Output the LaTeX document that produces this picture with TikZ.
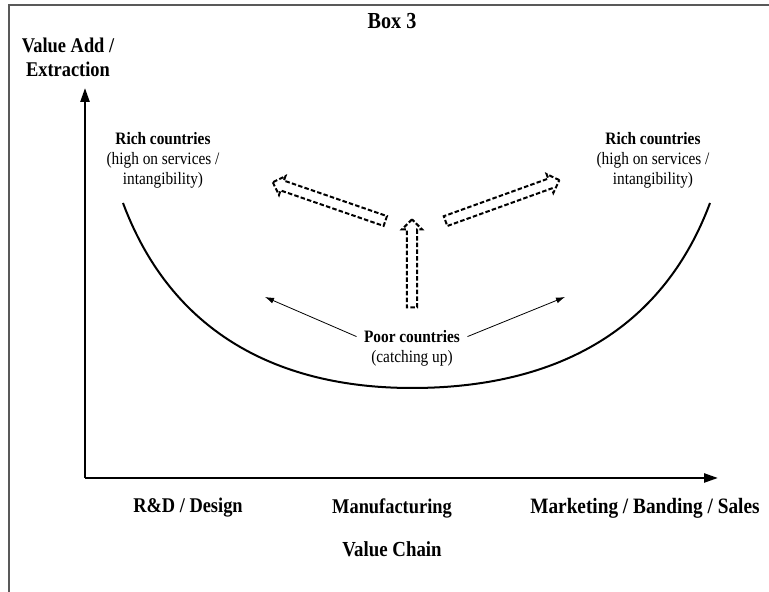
\documentclass[tikz,border=0pt]{standalone}
\usepackage{fontspec}
\setmainfont{Liberation Serif}[FakeStretch=0.88]
\usetikzlibrary{arrows.meta,shapes.arrows}

\tikzset{
	txt/.style={font=\fontsize{17.5}{20}\selectfont, align=center},
	axlbl/.style={font=\bfseries\fontsize{21}{24}\selectfont, align=center},
	hollowarrow/.style={single arrow, draw, dash pattern=on 4.5bp off 2.2bp, line width=2bp,
		inner sep=4.2bp, single arrow head extend=4.8bp, single arrow tip angle=90, minimum height=#1},
	thinarrow/.style={-{Latex[length=9bp,width=6bp]}, line width=0.8bp},
	axis/.style={-{Triangle[length=14bp,width=9bp]}, line width=2.4bp},
}

\begin{document}
\begin{tikzpicture}[x=1bp, y=1bp]
			%%%%% START %%%%%
			\useasboundingbox (0, 0) rectangle (769, 592);
			
			% frame
			\draw[line width=1.3bp, color=black!65] (9, 0) -- (9, 587) -- (769, 587);
			
			\node[axlbl, font=\bfseries\fontsize{23}{26}\selectfont] (title) at (392, 571) {Box 3};
			\node[axlbl] (ylabel) at (68, 535) {Value Add /\\Extraction};
			
			% axes
			\coordinate (origin) at (85, 114);
			\coordinate (ytip) at (85, 504);
			\coordinate (xtip) at (718, 114);
			\draw[axis] (origin) -- (ytip);
			\draw[axis] (origin) -- (xtip);
			
			\node[axlbl] (rd) at (188, 84) {R\&D / Design};
			\node[axlbl] (manu) at (392, 84) {Manufacturing};
			\node[axlbl, font=\bfseries\fontsize{22}{25}\selectfont] (mkt) at (645, 84) {Marketing / Banding / Sales};
			\node[axlbl, font=\bfseries\fontsize{21.5}{25}\selectfont] (chain) at (392, 43) {Value Chain};
			
			% smile curve
			\coordinate (cl) at (123, 389);
			\coordinate (cb) at (412, 204);
			\coordinate (cr) at (710, 389);
			\draw[line width=2bp] (cl) .. controls (175, 250) and (290, 204) .. (cb)
				.. controls (540, 204) and (658, 250) .. (cr);
			
			\node[txt] (richL) at (163, 432) {\textbf{Rich countries}\\(high on services /\\intangibility)};
			\node[txt] (richR) at (653, 432) {\textbf{Rich countries}\\(high on services /\\intangibility)};
			\node[txt] (poor) at (412, 244) {\textbf{Poor countries}\\(catching up)};
			
			% thin arrows
			\coordinate (tl) at (265, 295);
			\coordinate (tr) at (565, 295);
			\draw[thinarrow] (poor.north west) ++(-4, -10) coordinate (sl) -- (tl);
			\draw[thinarrow] (poor.north east) ++(4, -10) coordinate (sr) -- (tr);
			
			% dashed hollow arrows
			\node[hollowarrow=88bp, rotate=90] (up) at (412, 326) {};
			\node[hollowarrow=119bp, rotate=161] (upL) at (331.5, 389.5) {};
			\node[hollowarrow=121bp, rotate=19.8] (upR) at (500, 390.5) {};
			
			%%%%% END %%%%%
\end{tikzpicture}
\end{document}
